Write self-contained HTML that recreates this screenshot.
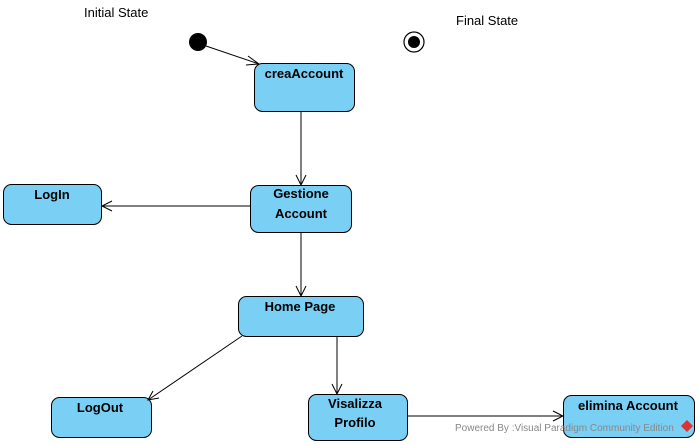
<!DOCTYPE html>
<html><head><meta charset="utf-8"><style>
html,body{margin:0;padding:0;background:#fff;width:699px;height:444px;overflow:hidden}
svg{display:block;font-family:"Liberation Sans",Arial,sans-serif}
</style></head><body>
<svg width="699" height="444" viewBox="0 0 699 444" xmlns="http://www.w3.org/2000/svg">
<g fill="#7acff5" stroke="#000" stroke-width="1">
<rect x="254.5" y="63.5" width="100" height="48" rx="8"/>
<rect x="250.5" y="185.5" width="101" height="47" rx="8"/>
<rect x="3.5" y="184.5" width="98" height="40" rx="8"/>
<rect x="238.5" y="296.5" width="125" height="40" rx="8"/>
<rect x="51.5" y="397.5" width="100" height="40" rx="8"/>
<rect x="308.5" y="394.5" width="99" height="46" rx="8"/>
<rect x="563.5" y="395.5" width="131" height="42" rx="8"/>
</g>
<circle cx="198" cy="42" r="9" fill="#000"/>
<circle cx="414" cy="42" r="10" fill="#fff" stroke="#000" stroke-width="1.2"/>
<circle cx="414" cy="42" r="6" fill="#000"/>
<g stroke="#000" stroke-width="1" fill="none">
<line x1="206" y1="46" x2="259" y2="64"/><polyline points="248,56 259,64 246,65"/>
<line x1="301" y1="112" x2="301" y2="185"/><polyline points="296,175 301,185 306,175"/>
<line x1="250" y1="206" x2="102" y2="206"/><polyline points="112,201 102,206 112,211"/>
<line x1="301" y1="233" x2="301" y2="296"/><polyline points="296,286 301,296 306,286"/>
<line x1="242" y1="336" x2="148" y2="400"/><polyline points="153,391 148,400 159,398"/>
<line x1="337" y1="337" x2="337" y2="394"/><polyline points="332,384 337,394 342,384"/>
<line x1="408" y1="416" x2="563" y2="416"/><polyline points="553,411 563,416 553,421"/>
</g>
<g font-size="13" font-weight="bold" text-anchor="middle" fill="#000">
<text x="304" y="78">creaAccount</text>
<text x="301" y="198">Gestione</text><text x="301" y="218">Account</text>
<text x="52" y="199">LogIn</text>
<text x="300" y="311">Home Page</text>
<text x="100" y="412">LogOut</text>
<text x="355" y="408">Visalizza</text><text x="355" y="427">Profilo</text>
<text x="628" y="410">elimina Account</text>
</g>
<g font-size="13" fill="#000">
<text x="84" y="17">Initial State</text>
<text x="456" y="25">Final State</text>
</g>
<text x="455" y="431" font-size="10" fill="#888">Powered By :Visual Paradigm Community Edition</text>
<path d="M687 420 l6 6 -6 6 -6 -6z" fill="#d33"/>
</svg>
</body></html>
